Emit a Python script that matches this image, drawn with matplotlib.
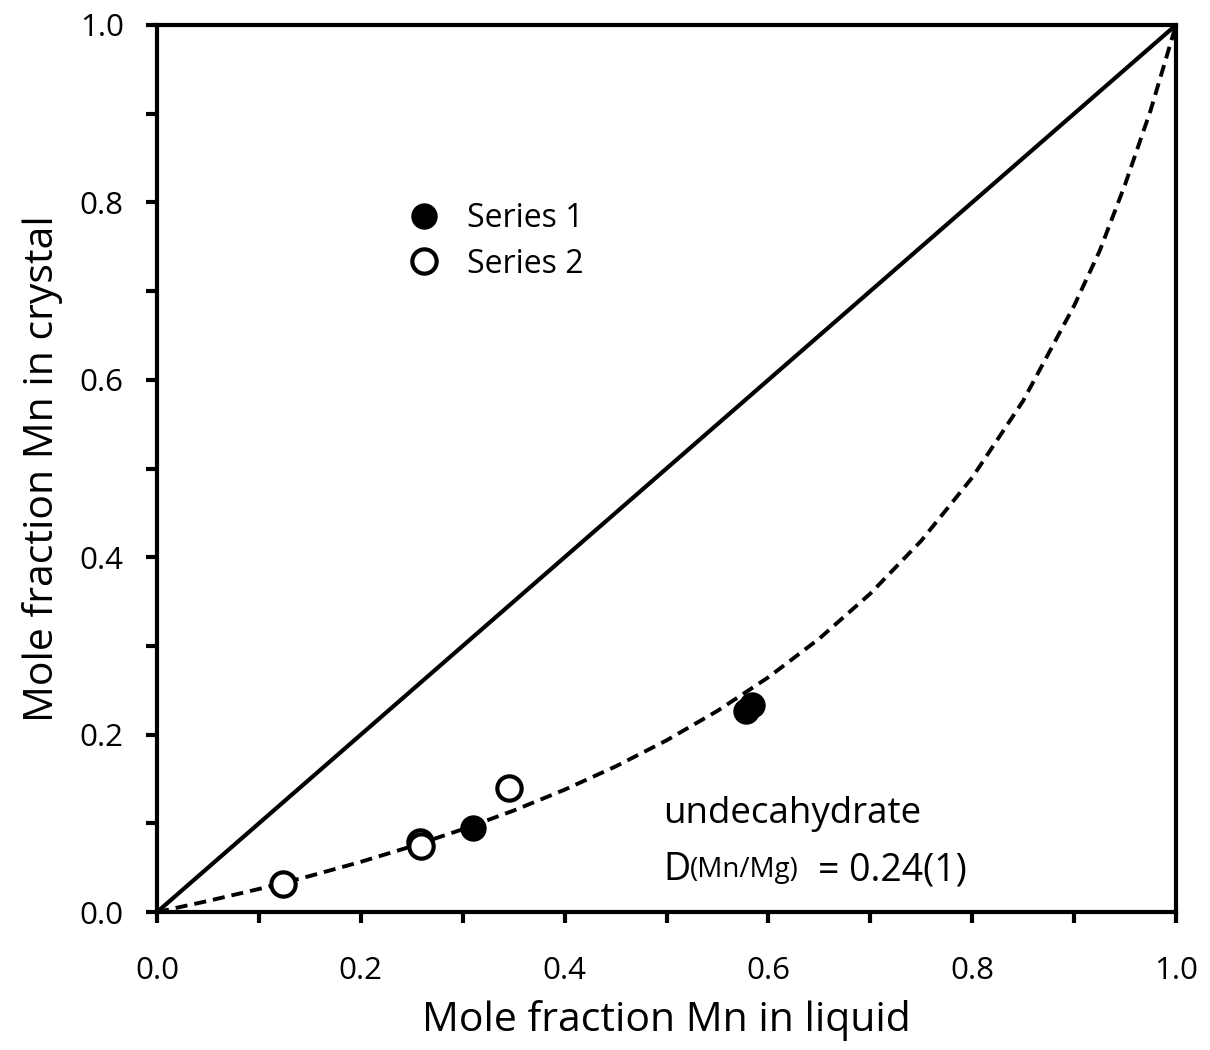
import matplotlib
matplotlib.use("Agg")
import matplotlib.pyplot as plt
from matplotlib.ticker import MultipleLocator

plt.rcParams['font.family'] = ['Open Sans', 'DejaVu Sans']
plt.rcParams['xtick.labelsize'] = 22.5
plt.rcParams['ytick.labelsize'] = 22.5

# Data
s1_x = [0.310, 0.578, 0.584]
s1_y = [0.095, 0.227, 0.233]
s2_x = [0.124, 0.258, 0.259, 0.345]
s2_y = [0.032, 0.079, 0.075, 0.140]

diag_x = [0.0, 1.0]
diag_y = [0.0, 1.0]

curve_x = [0.0, 0.05, 0.10, 0.15, 0.20, 0.25, 0.30, 0.35, 0.40, 0.45, 0.50,
           0.55, 0.60, 0.65, 0.70, 0.75, 0.80, 0.85, 0.90, 0.925, 0.95, 0.975, 1.0]
curve_y = [0.0, 0.0125, 0.026, 0.0406, 0.0566, 0.0741, 0.0933, 0.1144, 0.1379,
           0.1641, 0.1935, 0.2268, 0.2647, 0.3083, 0.359, 0.4186, 0.4898, 0.5763,
           0.6835, 0.7451, 0.8201, 0.9035, 1.0]

ticks = [0.0, 0.2, 0.4, 0.6, 0.8, 1.0]
tick_labels = ['0.0', '0.2', '0.4', '0.6', '0.8', '1.0']

fig = plt.figure(figsize=(12.1, 10.5), dpi=100)
ax = fig.add_axes([0.1298, 0.1314, 0.8421, 0.8448])

ax.plot(diag_x, diag_y, color='black', lw=3.0, solid_capstyle='butt', zorder=2)
ax.plot(curve_x, curve_y, color='black', lw=2.8, dashes=(3.1, 1.8), zorder=2)

ax.plot(s1_x, s1_y, linestyle='none', marker='o', markersize=17.5,
        markerfacecolor='black', markeredgecolor='black', markeredgewidth=1.5,
        label='Series 1', zorder=3)
ax.plot(s2_x, s2_y, linestyle='none', marker='o', markersize=17.5,
        markerfacecolor='white', markeredgecolor='black', markeredgewidth=3.0,
        label='Series 2', zorder=3)

ax.set_xlim(0, 1)
ax.set_ylim(0, 1)
ax.set_xticks(ticks)
ax.set_xticklabels(tick_labels)
ax.set_yticks(ticks)
ax.set_yticklabels(tick_labels)
ax.xaxis.set_minor_locator(MultipleLocator(0.1))
ax.yaxis.set_minor_locator(MultipleLocator(0.1))

for sp in ax.spines.values():
    sp.set_linewidth(3.0)

ax.tick_params(which='both', direction='out', length=8, width=3.0,
               top=False, right=False)
ax.tick_params(axis='x', which='major', pad=24, labelsize=22.5)
ax.tick_params(axis='y', which='major', pad=16, labelsize=22.5)
for lab in ax.get_xticklabels() + ax.get_yticklabels():
    lab.set_fontsize(22.5)

ax.set_xlabel('Mole fraction Mn in liquid', fontsize=29.5, labelpad=10)
ax.set_ylabel('Mole fraction Mn in crystal', fontsize=29.5, labelpad=12)

ax.legend(loc='upper left', bbox_to_anchor=(0.246, 0.80), frameon=False,
          fontsize=23, handlelength=1.0, handletextpad=0.85, labelspacing=0.38,
          borderpad=0, borderaxespad=0)

ax.text(0.4966, 0.1003, 'undecahydrate', fontsize=26.5, va='baseline', ha='left')
ax.text(0.4966, 0.036, 'D', fontsize=27, va='baseline', ha='left')
ax.text(0.5231, 0.039, '(Mn/Mg)', fontsize=20, va='baseline', ha='left')
ax.text(0.6487, 0.036, '= 0.24(1)', fontsize=27, va='baseline', ha='left')

fig.savefig('out.png', dpi=100)
